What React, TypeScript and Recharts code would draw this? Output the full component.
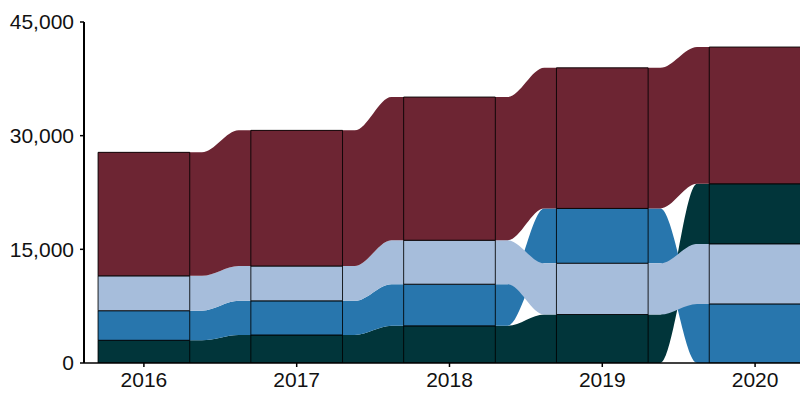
import { ComposedChart, Area, XAxis, YAxis, ReferenceArea } from 'recharts'

const years = [2016, 2017, 2018, 2019, 2020]
const yTicks = [0, 15000, 30000, 45000]

// values per year
const tealValues = [3000, 3700, 4900, 6400, 7950]
const blueValues = [3900, 4500, 5500, 7250, 7800]
const lightValues = [4600, 4600, 5800, 6750, 7900]
const redValues = [16300, 17900, 18900, 18550, 18050]

const series = [
  { key: 'teal', color: '#01353a', values: tealValues },
  { key: 'blue', color: '#2876ad', values: blueValues },
  { key: 'light', color: '#a6bddb', values: lightValues },
  { key: 'red', color: '#6d2533', values: redValues },
]

const half = 0.3
// flows hold their level for a short stretch past the bar before bending
const knot = 0.08

// within each year the strata are stacked smallest at the bottom
const ranges: Record<string, [number, number][]> = {}
series.forEach((s) => (ranges[s.key] = []))
years.forEach((_, i) => {
  const order = [...series].sort((a, b) => a.values[i] - b.values[i])
  let base = 0
  order.forEach((s) => {
    ranges[s.key][i] = [base, base + s.values[i]]
    base += s.values[i]
  })
})

const rows = years.flatMap((yr, i) => {
  const offsets = [-half, half]
  if (i > 0) offsets.unshift(-half - knot)
  if (i < years.length - 1) offsets.push(half + knot)
  return offsets.map((d) => {
    const row: Record<string, any> = { x: yr + d }
    series.forEach((s) => (row[s.key] = ranges[s.key][i]))
    return row
  })
})

const font = 'Arial, "Liberation Sans", sans-serif'
const fmt = (v: number) => v.toLocaleString('en-US')

export default function App() {
  return (
    <div style={{ position: 'absolute', left: 0, top: 0 }}>
      <ComposedChart
        width={800}
        height={400}
        data={rows}
        margin={{ top: 22, right: 0, bottom: 7, left: 0 }}
      >
        <XAxis
          dataKey="x"
          type="number"
          domain={[2015.608, 2020.294]}
          allowDataOverflow
          ticks={years}
          height={30}
          tickSize={4}
          tickMargin={5}
          axisLine={{ stroke: '#000', strokeWidth: 1.5 }}
          tickLine={{ stroke: '#000', strokeWidth: 1.5 }}
          tick={{ fill: '#111', fontSize: 21, fontFamily: font }}
        />
        <YAxis
          type="number"
          domain={[0, 45000]}
          ticks={yTicks}
          width={84}
          tickSize={4}
          tickMargin={6}
          tickFormatter={fmt}
          axisLine={{ stroke: '#000', strokeWidth: 2 }}
          tickLine={{ stroke: '#000', strokeWidth: 1.5 }}
          tick={{ fill: '#111', fontSize: 21, fontFamily: font }}
        />
        {series.map((s) => (
          <Area
            key={s.key}
            type="monotone"
            dataKey={s.key}
            fill={s.color}
            fillOpacity={1}
            stroke="none"
            isAnimationActive={false}
          />
        ))}
        {series.flatMap((s) =>
          years.map((yr, i) => (
            <ReferenceArea
              key={`${s.key}-${yr}`}
              x1={yr - half}
              x2={yr + half}
              y1={ranges[s.key][i][0]}
              y2={ranges[s.key][i][1]}
              fill={s.color}
              fillOpacity={1}
              stroke="#000"
              strokeOpacity={0.85}
              strokeWidth={1}
              ifOverflow="hidden"
            />
          )),
        )}
      </ComposedChart>
    </div>
  )
}
